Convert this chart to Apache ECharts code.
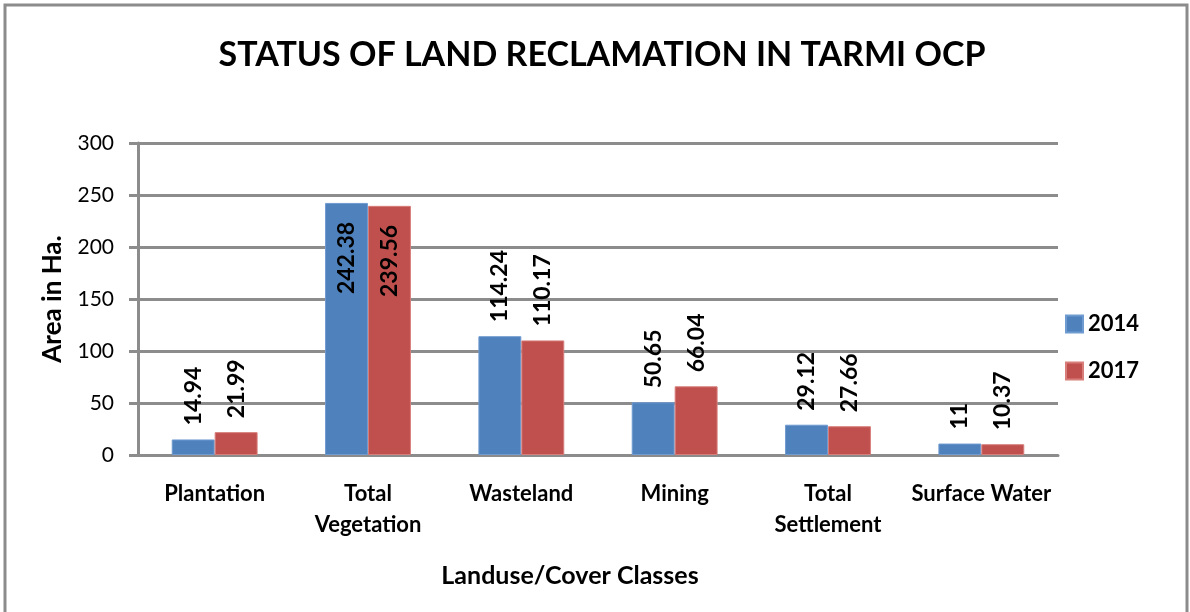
<!DOCTYPE html>
<html>
<head>
<meta charset="utf-8">
<script src="https://cdn.jsdelivr.net/npm/echarts@6/dist/echarts.min.js"></script>
<style>
  body { margin: 0; background: #fff; }
  #chart { width: 1190px; height: 612px; }
</style>
</head>
<body>
<div id="chart"></div>
<script>
var categories = ['Plantation', 'Total\nVegetation', 'Wasteland', 'Mining', 'Total\nSettlement', 'Surface Water'];
var values2014 = [14.94, 242.38, 114.24, 50.65, 29.12, 11];
var values2017 = [21.99, 239.56, 110.17, 66.04, 27.66, 10.37];
var yTicks = [0, 50, 100, 150, 200, 250, 300];

var font = 'Lato';
var gridGray = '#8c8c8c';

// tall bars get their label inside, the rest sit above the bar
function withLabels(vals) {
  return vals.map(function (v) {
    if (v > 200) {
      return { value: v, label: { position: 'insideTop', distance: 19, align: 'right' } };
    }
    return v;
  });
}

var barLabel = {
  show: true,
  position: 'top',
  distance: 14,
  rotate: 90,
  align: 'left',
  verticalAlign: 'middle',
  color: '#000',
  fontFamily: font,
  fontWeight: 'bold',
  fontSize: 23
};

var chart = echarts.init(document.getElementById('chart'));
chart.setOption({
  animation: false,
  title: {
    text: 'STATUS OF LAND RECLAMATION IN TARMI OCP',
    left: 597,
    textAlign: 'center',
    top: 33,
    textStyle: { fontFamily: font, fontWeight: 'bold', fontSize: 34, color: '#000' }
  },
  legend: {
    orient: 'vertical',
    left: 1060,
    top: 308,
    icon: 'rect',
    itemWidth: 17,
    itemHeight: 17,
    itemGap: 25,
    textStyle: { fontFamily: font, fontWeight: 'bold', fontSize: 22, color: '#000' },
    data: ['2014', '2017']
  },
  graphic: [{
    type: 'rect',
    shape: { x: 5, y: 5, width: 1182, height: 700 },
    style: { fill: 'none', stroke: gridGray, lineWidth: 3 },
    silent: true
  }],
  grid: { left: 138, right: 132, top: 143, bottom: 157 },
  xAxis: {
    type: 'category',
    data: categories,
    axisLine: { lineStyle: { color: gridGray, width: 3 } },
    axisTick: { show: false },
    axisLabel: {
      fontFamily: font, fontWeight: 'bold', fontSize: 22, color: '#000',
      margin: 23, lineHeight: 31, interval: 0
    },
    name: 'Landuse/Cover Classes',
    nameLocation: 'middle',
    nameGap: 108,
    nameTextStyle: {
      fontFamily: font, fontWeight: 'bold', fontSize: 25, color: '#000',
      padding: [0, 56, 0, 0]
    }
  },
  yAxis: {
    type: 'value',
    min: yTicks[0],
    max: yTicks[yTicks.length - 1],
    interval: 50,
    axisLine: { show: true, lineStyle: { color: gridGray, width: 3 } },
    axisTick: { show: true, length: 9, lineStyle: { color: gridGray, width: 3 } },
    axisLabel: { fontFamily: font, fontSize: 21, color: '#000', margin: 24 },
    splitLine: { lineStyle: { color: gridGray, width: 3 } },
    name: 'Area in Ha.',
    nameLocation: 'middle',
    nameGap: 72,
    nameTextStyle: { fontFamily: font, fontWeight: 'bold', fontSize: 26, color: '#000' }
  },
  series: [
    {
      name: '2014',
      type: 'bar',
      data: withLabels(values2014),
      barWidth: '28%',
      barGap: '0%',
      itemStyle: { color: '#4F81BD', borderColor: '#6f9bd1', borderWidth: 1 },
      label: barLabel
    },
    {
      name: '2017',
      type: 'bar',
      data: withLabels(values2017),
      barWidth: '28%',
      itemStyle: { color: '#C0504D', borderColor: '#d77e7b', borderWidth: 1 },
      label: barLabel
    }
  ]
});
</script>
</body>
</html>
